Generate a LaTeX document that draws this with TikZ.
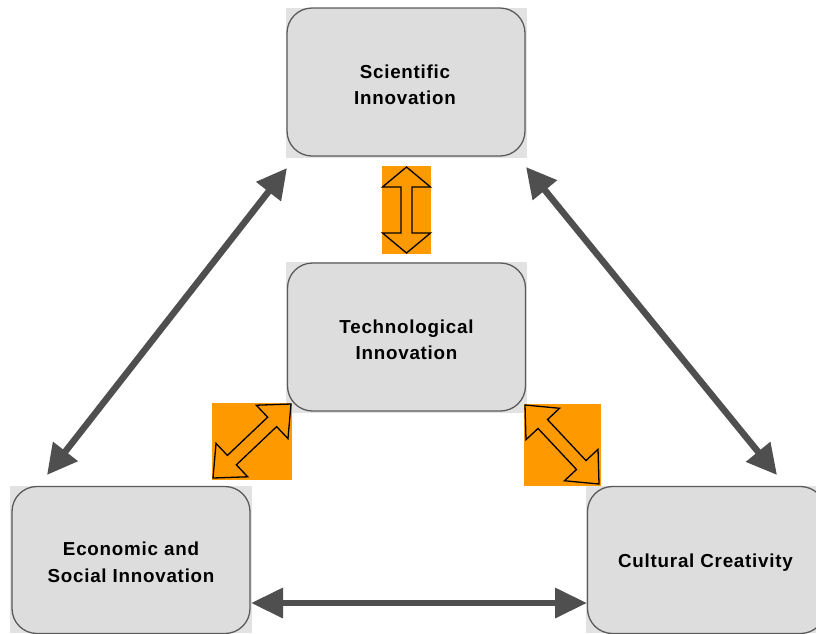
\documentclass[tikz,border=0pt]{standalone}
\usepackage{fontspec}
\setmainfont{Liberation Sans}[LetterSpace=4]
\usetikzlibrary{arrows.meta,calc}
\definecolor{boxfill}{HTML}{DDDDDD}
\definecolor{boxbg}{HTML}{E2E2E2}
\definecolor{boxline}{HTML}{5A5A5A}
\definecolor{connc}{HTML}{4F4F4F}
\definecolor{orangefill}{HTML}{FF9900}
\newcommand{\blockarr}[5]{%
  \coordinate (ba1) at ($(#1)!#3!(#2)$);
  \coordinate (ba2) at ($(#2)!#3!(#1)$);
  \filldraw[blockstyle] (#1) -- ($(ba1)!#4!90:(#2)$) -- ($(ba1)!#5!90:(#2)$)
    -- ($(ba2)!#5!-90:(#1)$) -- ($(ba2)!#4!-90:(#1)$) -- (#2)
    -- ($(ba2)!#4!90:(#1)$) -- ($(ba2)!#5!90:(#1)$)
    -- ($(ba1)!#5!-90:(#2)$) -- ($(ba1)!#4!-90:(#2)$) -- cycle;}
\tikzset{
  box/.style={draw=boxline, line width=1.3pt, fill=boxfill, rounded corners=25pt,
    minimum width=238pt, minimum height=148pt, inner sep=0pt},
  boxtext/.style={align=center, inner sep=0pt,
    font=\bfseries\fontsize{18.8}{26.5}\selectfont},
  boxback/.style={fill=boxbg},
  conn/.style={draw=connc, line width=6.5pt, {Triangle[length=30pt,width=30pt]}-{Triangle[length=30pt,width=30pt]}, color=connc},
  hconn/.style={conn, {Triangle[length=32pt,width=29pt]}-{Triangle[length=32pt,width=29pt]}},
  orangesq/.style={fill=orangefill},
  blockstyle/.style={draw=black, fill=orangefill, line width=1.3pt, line join=miter}
}
\begin{document}
\begin{tikzpicture}[x=1pt,y=-1pt]
\useasboundingbox (0,0) rectangle (816,633);
\clip (0,0) rectangle (816,633);
% backgrounds of boxes
\fill[boxback] (286,8) rectangle (527,158);
\fill[boxback] (286,262) rectangle (527,413);
\fill[boxback] (10,486) rectangle (252,633);
\fill[boxback] (586,486) rectangle (830,633);
% boxes
\node[box] (sci) at (406,82) {};
\node[box] (tech) at (406.5,337) {};
\node[box, minimum height=147pt] (econ) at (131,560) {};
\node[box, minimum height=147pt] (cult) at (706.5,560) {};
\node[boxtext] (scit) at ($(sci.center)+(-1,3)$) {Scientific\\Innovation};
\node[boxtext] (techt) at ($(tech.center)+(0,3)$) {Technological\\Innovation};
\node[boxtext] (econt) at ($(econ.center)+(0,2.5)$) {Economic and\\Social Innovation};
\node[boxtext] (cultt) at ($(cult.center)+(-1,3)$) {Cultural Creativity};
% gray connectors
\coordinate (l1) at (287,168);
\coordinate (l2) at (47,475);
\coordinate (r1) at (526,167);
\coordinate (r2) at (777,475);
\coordinate (h1) at (251,603);
\coordinate (h2) at (587,603);
\draw[conn] (l1) -- (l2);
\draw[conn] (r1) -- (r2);
\draw[hconn] (h1) -- (h2);
% orange squares
\fill[orangesq] (382,166) rectangle (431,254);
\fill[orangesq] (212,403) rectangle (292,480);
\fill[orangesq] (524,404) rectangle (601,486);
% block arrows
\coordinate (v1) at (406.5,167);
\coordinate (v2) at (406.5,253);
\blockarr{v1}{v2}{20pt}{24pt}{5.5pt}
\coordinate (d1) at (291,404);
\coordinate (d2) at (213,478);
\blockarr{d1}{d2}{26pt}{23pt}{6.5pt}
\coordinate (e1) at (525,405);
\coordinate (e2) at (599,484);
\blockarr{e1}{e2}{26pt}{23pt}{6.5pt}
\end{tikzpicture}
\end{document}
